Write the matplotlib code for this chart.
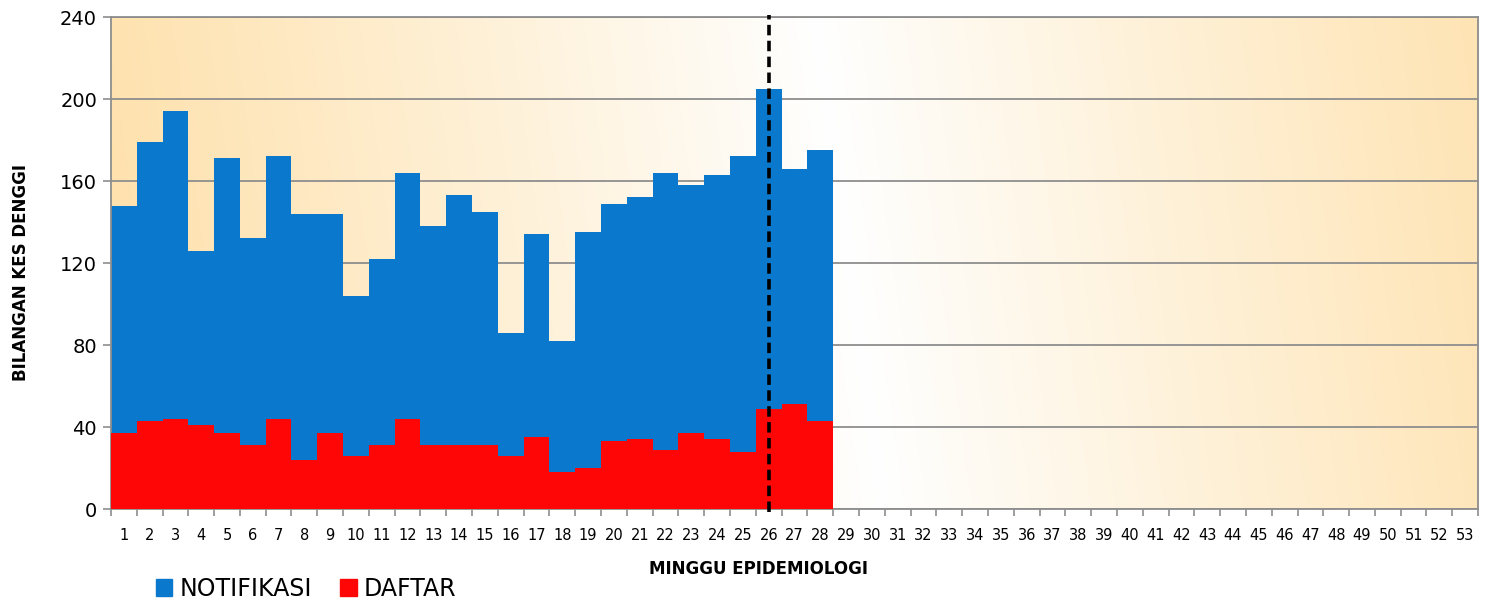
"""Kes denggi mingguan: notifikasi vs daftar."""
import numpy as np
import matplotlib.pyplot as plt
import matplotlib as mpl
from matplotlib.patches import Patch
from matplotlib.ticker import FixedLocator

mpl.rcParams['font.family'] = 'DejaVu Sans'

WEEKS = list(range(1, 29))
ALL_WEEKS = list(range(1, 54))
NOTIFIKASI = [148, 179, 194, 126, 171, 132, 172, 144, 144, 104, 122, 164, 138, 153,
              145, 86, 134, 82, 135, 149, 152, 164, 158, 163, 172, 205, 166, 175]
DAFTAR = [37, 43, 44, 41, 37, 31, 44, 24, 37, 26, 31, 44, 31, 31,
          31, 26, 35, 18, 20, 33, 34, 29, 37, 34, 28, 49, 51, 43]
CURRENT_WEEK = 26
Y_TICKS = [0, 40, 80, 120, 160, 200, 240]

BLUE = '#0A78CC'
RED = '#FF0606'
PEACH = np.array([254, 225, 172]) / 255.0
GRID = '#8E8E8E'

fig = plt.figure(figsize=(14.93, 6.01), dpi=100)
ax = fig.add_axes([0.0743, 0.153, 0.9157, 0.8187])

# gradient background (peach edges, white middle)
gx, gy = np.meshgrid(np.linspace(0, 1, 400), np.linspace(0, 1, 200))
d = np.abs(gx - 0.54 + 0.05 * (gy - 0.5)) / 0.54
d = np.clip(d, 0, 1) ** 0.95
img = 1 - d[..., None] * (1 - PEACH[None, None, :])
ax.imshow(img, extent=[0, 1, 0, 1], transform=ax.transAxes, aspect='auto',
          origin='lower', zorder=0, interpolation='bilinear')

ax.bar(WEEKS, NOTIFIKASI, width=1.0, color=BLUE, linewidth=0, zorder=2,
       label='NOTIFIKASI')
ax.bar(WEEKS, DAFTAR, width=1.0, color=RED, linewidth=0, zorder=3,
       label='DAFTAR')

ax.axvline(CURRENT_WEEK, ymin=-0.006, ymax=1.005, color='black', lw=2.6,
           dashes=(2.9, 1.5), zorder=5, clip_on=False)

ax.set_xlim(0.5, 53.5)
ax.set_ylim(0, 240)
ax.set_yticks(Y_TICKS)
ax.set_yticklabels([str(v) for v in Y_TICKS], fontsize=14)
ax.set_xticks(ALL_WEEKS)
ax.set_xticklabels([str(w) for w in ALL_WEEKS], fontsize=10.5,
                   family='Liberation Sans Narrow')
ax.xaxis.set_minor_locator(FixedLocator(np.arange(0.5, 54.0, 1.0)))
ax.tick_params(axis='x', which='major', length=0, pad=14)
ax.tick_params(axis='x', which='minor', length=5, color=GRID, width=1.2)
ax.tick_params(axis='y', length=6, color=GRID, width=1.2, pad=4)

ax.grid(axis='y', color=GRID, lw=1.3, zorder=1)
for gl in ax.get_ygridlines():
    gl.set_zorder(1)
for s in ax.spines.values():
    s.set_color(GRID)
    s.set_linewidth(1.3)

ax.set_xlabel('MINGGU EPIDEMIOLOGI', fontsize=12, fontweight='bold')
ax.xaxis.set_label_coords(0.474, -0.103)
ax.set_ylabel('BILANGAN KES DENGGI', fontsize=12, fontweight='bold')
ax.yaxis.set_label_coords(-0.059, 0.48)

handles = [Patch(color=BLUE, label='NOTIFIKASI'), Patch(color=RED, label='DAFTAR')]
fig.legend(handles=handles, loc='lower left', bbox_to_anchor=(0.09, -0.035),
           ncol=2, frameon=False, fontsize=17, handlelength=0.7, handleheight=0.7,
           handletextpad=0.3, columnspacing=1.2)

fig.savefig('out.png', dpi=100)
